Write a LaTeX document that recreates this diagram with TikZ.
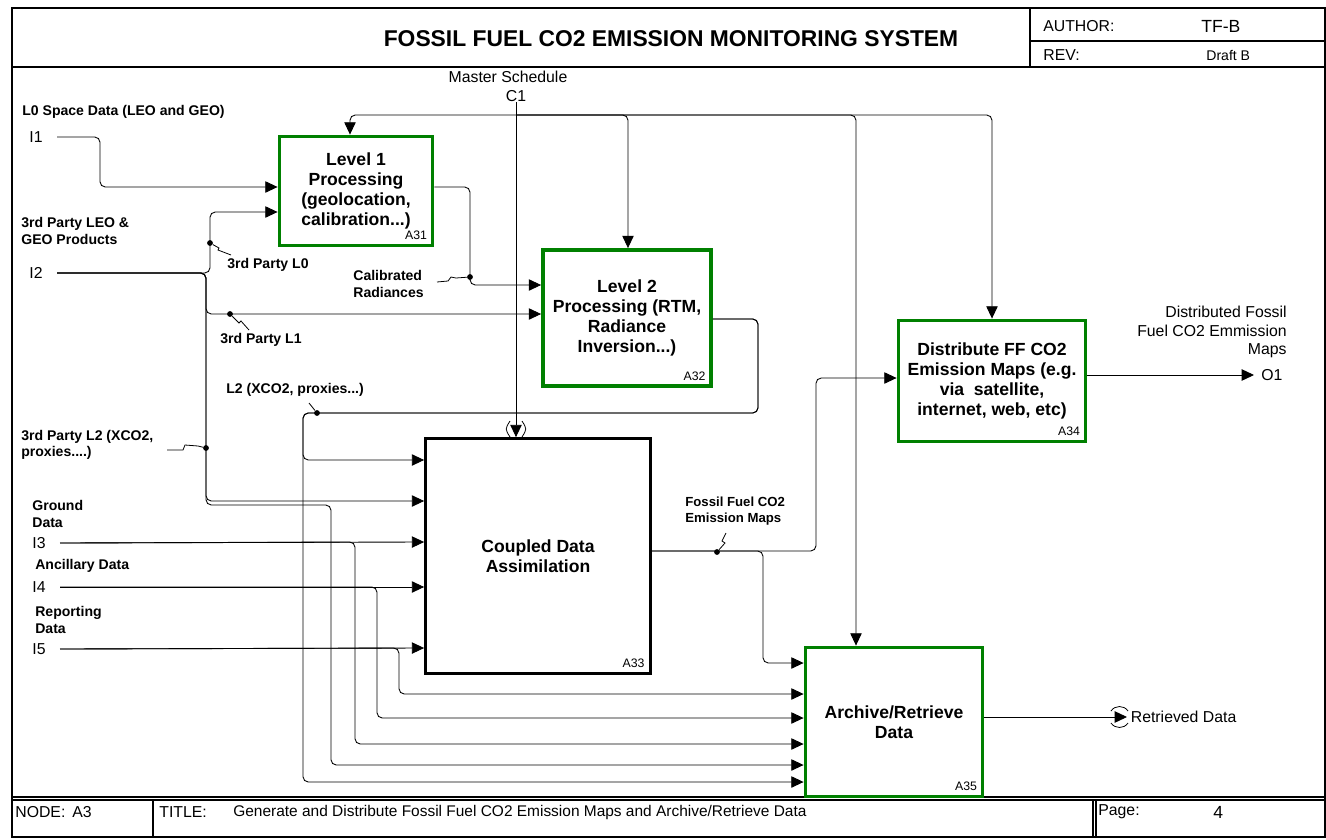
\documentclass[tikz,border=0pt]{standalone}
\usepackage{fontspec}
\setmainfont{Liberation Sans}
\usetikzlibrary{arrows.meta}
\definecolor{idefgreen}{RGB}{0,128,0}

\begin{document}
\begin{tikzpicture}[
        x=0.02cm, y=-0.02cm,
        >={Triangle[length=7pt,width=6.5pt]},
        func/.style={
                draw=idefgreen, line width=2.2pt,
                align=center, inner sep=2pt,
                font=\fontsize{10}{11.5}\selectfont\bfseries
            },
        blk/.style={
                draw, line width=1.6pt,
                align=center, inner sep=2pt,
                font=\fontsize{10}{11.5}\selectfont\bfseries
            },
        fnum/.style={anchor=south east, inner sep=4pt, font=\fontsize{7}{8}\selectfont},
        flow/.style={->, line width=0.5pt, rounded corners=3pt},
        lbl/.style={font=\fontsize{8}{9.5}\selectfont\bfseries, align=left, anchor=west, inner sep=0pt},
        port/.style={font=\fontsize{9}{10}\selectfont, inner xsep=8pt, inner ysep=1pt},
        txt/.style={font=\fontsize{9}{10.5}\selectfont, inner sep=0pt},
        jdot/.style={circle, fill, inner sep=0pt, minimum size=3.3pt},
        leader/.style={line width=0.45pt},
        sheet/.style={line width=0.8pt},
    ]
    \useasboundingbox (0,0) rectangle (1326,839);

    % sheet frame, header and footer
    \draw[sheet] (12,8) rectangle (1325,837);
    \draw[sheet] (12,67) -- (1325,67);
    \draw[sheet] (1030,8) -- (1030,67);
    \draw[sheet] (1030,41) -- (1325,41);
    \draw[sheet] (12,797) -- (1325,797);
    \draw[sheet] (12,800) -- (1325,800);
    \draw[sheet] (153,800) -- (153,837);
    \draw[sheet] (1093,800) -- (1093,837);
    \draw[sheet] (1096,800) -- (1096,837);

    \node[font=\fontsize{13}{15}\selectfont\bfseries] (title) at (671,39) {FOSSIL FUEL CO2 EMISSION MONITORING SYSTEM};
    \node[txt, anchor=west] (author) at (1043,26) {AUTHOR:};
    \node[txt, anchor=west, font=\fontsize{10}{12}\selectfont] (tfb) at (1201,26) {TF-B};
    \node[txt, anchor=west] (rev) at (1043,55) {REV:};
    \node[txt, anchor=west, font=\fontsize{8}{10}\selectfont] (draft) at (1206,55) {Draft B};

    \node[txt, anchor=west] (nodelbl) at (15,812) {NODE:};
    \node[txt, anchor=west] (nodeid) at (72,812) {A3};
    \node[txt, anchor=west] (titlelbl) at (159,812) {TITLE:};
    \node[txt, anchor=west, font=\fontsize{8.8}{10}\selectfont] (titletxt) at (233,812) {Generate and Distribute Fossil Fuel CO2 Emission Maps and Archive/Retrieve Data};
    \node[txt, anchor=west] (pagelbl) at (1098,812) {Page:};
    \node[txt, anchor=west, font=\fontsize{10}{12}\selectfont] (pageno) at (1213,812) {4};

    % activity boxes
    \node[func, minimum width=3.06cm, minimum height=2.18cm, label={[fnum]south east:A31}] (l1) at (356,191) {Level 1\\Processing\\(geolocation,\\calibration...)};
    \node[func, minimum width=3.36cm, minimum height=2.72cm, label={[fnum]south east:A32}] (l2) at (627,318) {Level 2\\Processing (RTM,\\Radiance\\Inversion...)};
    \node[blk, minimum width=4.5cm, minimum height=4.7cm, label={[fnum]south east:A33}] (cda) at (538,556) {Coupled Data\\Assimilation};
    \node[func, minimum width=3.74cm, minimum height=2.42cm, label={[fnum]south east:A34}] (dist) at (992,381) {Distribute FF CO2\\Emission Maps (e.g.\\via\ \ satellite,\\internet, web, etc)};
    \node[func, minimum width=3.54cm, minimum height=2.98cm, label={[fnum]south east:A35}] (arch) at (894,722) {Archive/Retrieve\\Data};

    % boundary arrows
    \node[txt] (sched) at (508,77) {Master Schedule};
    \node[txt] (c1) at (516,96) {C1};
    \node[port] (i1) at (36,137) {I1};
    \node[port] (i2) at (36,273) {I2};
    \node[port] (i3) at (39,543) {I3};
    \node[port] (i4) at (39,587) {I4};
    \node[port] (i5) at (39,649) {I5};
    \node[txt, anchor=west, inner xsep=4pt] (o1) at (1254,375) {O1};
    \node[txt, anchor=west, inner xsep=2pt] (rd) at (1127,717) {Retrieved Data};
    \node[txt, align=right, anchor=east] (o1txt) at (1287,332) {Distributed Fossil\\Fuel CO2 Emmission\\Maps};

    % arrow labels
    \node[lbl] (l0lbl) at (22,112) {L0 Space Data (LEO and GEO)};
    \node[lbl] (prodlbl) at (21,231) {3rd Party LEO \&\\GEO Products};
    \node[lbl] (pl0lbl) at (227,265) {3rd Party L0};
    \node[lbl] (callbl) at (353,284) {Calibrated\\Radiances};
    \node[lbl] (pl1lbl) at (220,340) {3rd Party L1};
    \node[lbl] (l2lbl) at (226,390) {L2 (XCO2, proxies...)};
    \node[lbl] (pl2lbl) at (21,445) {3rd Party L2 (XCO2,\\proxies....)};
    \node[lbl] (gndlbl) at (32,514) {Ground\\Data};
    \node[lbl] (anclbl) at (35,566) {Ancillary Data};
    \node[lbl] (replbl) at (35,620) {Reporting\\Data};
    \node[lbl, font=\fontsize{7.5}{9}\selectfont\bfseries] (ffmlbl) at (685,511) {Fossil Fuel CO2\\Emission Maps};

    % controls
    \coordinate (ctl) at (516,115);
    \draw[flow] (c1.south) -- (cda.north -| c1.south);
    \draw[flow] (ctl) -- (350,115) -- (l1.north -| 350,0);
    \draw[flow] (ctl) -- (628,115) -- (l2.north -| 628,0);
    \draw[flow] (ctl) -- (856,115) -- (arch.north -| 856,0);
    \draw[flow] (ctl) -- (992,115) -- (dist.north);
    \draw[leader] (510,421) .. controls (505,429) .. (510,437);
    \draw[leader] (522,421) .. controls (527,429) .. (522,437);

    % inputs
    \draw[flow] (i1.east) -- (100,137) -- (100,187) -- (l1.west |- 0,187);
    \draw[flow] (i2.east) -- (210,273) -- (210,212) -- (l1.west |- 0,212);
    \draw[flow] (i2.east) -- (206,273) -- (206,314) -- (l2.west |- 0,314);
    \draw[flow] (i2.east) -- (206,273) -- (206,501) -- (cda.west |- 0,501);
    \draw[flow] (i2.east) -- (206,273) -- (206,505) -- (331,505) -- (331,765) -- (arch.west |- 0,765);
    \draw[flow] (i3.east) -- (cda.west |- 0,542);
    \draw[flow] (i3.east) -- (355,542) -- (355,744) -- (arch.west |- 0,744);
    \draw[flow] (i4.east) -- (cda.west |- 0,587);
    \draw[flow] (i4.east) -- (377,587) -- (377,718) -- (arch.west |- 0,718);
    \draw[flow] (i5.east) -- (cda.west |- 0,648);
    \draw[flow] (i5.east) -- (399,648) -- (399,694) -- (arch.west |- 0,694);

    % internal flows
    \draw[flow] (l1.east |- 0,187) -- (470,187) -- (470,285) -- (l2.west |- 0,285);
    \draw[flow] (l2.east |- 0,319) -- (758,319) -- (758,413) -- (303,413) -- (303,460) -- (cda.west |- 0,460);
    \draw[flow] (l2.east |- 0,319) -- (758,319) -- (758,413) -- (303,413) -- (303,782) -- (arch.west |- 0,782);
    \draw[flow] (cda.east |- 0,551) -- (763,551) -- (763,663) -- (arch.west |- 0,663);
    \draw[flow] (cda.east |- 0,551) -- (816,551) -- (816,378) -- (dist.west |- 0,378);

    % outputs
    \draw[flow] (dist.east |- o1.west) -- (o1.west);
    \draw[flow] (arch.east |- rd.west) -- (rd.west);
    \draw[leader] (1111,711) .. controls (1115,705) and (1124,705) .. (1128,711);
    \draw[leader] (1111,723) .. controls (1115,729) and (1124,729) .. (1128,723);

    % junctions and label leaders
    \node[jdot] (jl0) at (210,243) {};
    \draw[leader] (jl0) -- (219,248) -- (218,250) -- (231,255);
    \node[jdot] (jl1) at (230,314) {};
    \draw[leader] (jl1) -- (239,323) -- (241,321) -- (249,330);
    \node[jdot] (jl2) at (317,413) {};
    \draw[leader] (309,403) -- (jl2);
    \node[jdot] (jpl2) at (206,448) {};
    \draw[leader] (167,450) -- (183,450) -- (185,445) -- (198,446) -- (jpl2);
    \node[jdot] (jcal) at (470,277) {};
    \draw[leader] (437,282) -- (448,281) -- (451,277) -- (456,278) -- (jcal);
    \node[jdot] (jffm) at (717,552) {};
    \draw[leader] (726,533) -- (722,541) -- (725,543) -- (jffm);
\end{tikzpicture}
\end{document}
